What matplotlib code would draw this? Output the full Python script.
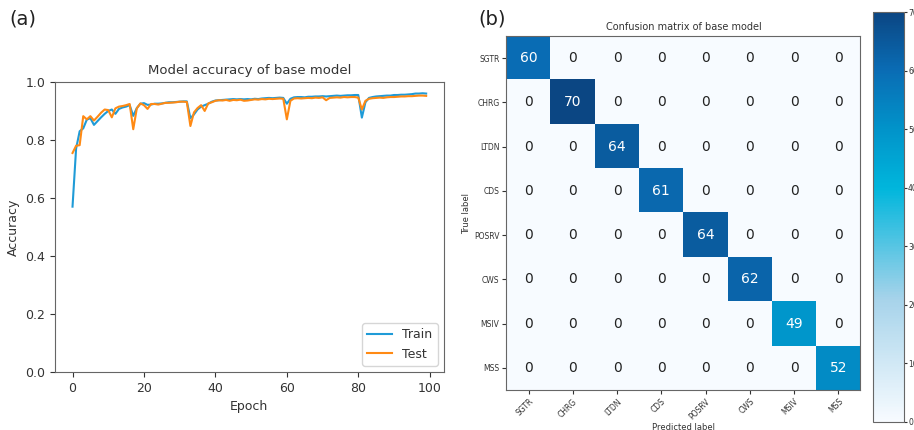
import numpy as np
import matplotlib
matplotlib.use("Agg")
import matplotlib.pyplot as plt
from matplotlib.colors import LinearSegmentedColormap

# accuracy curves
epochs = list(range(100))
train_acc = [
    0.57, 0.77, 0.83, 0.84, 0.87, 0.875, 0.852, 0.865, 0.878, 0.89,
    0.90, 0.905, 0.89, 0.907, 0.912, 0.915, 0.92, 0.883, 0.91, 0.925,
    0.927, 0.921, 0.922, 0.925, 0.925, 0.926, 0.928, 0.93, 0.93, 0.931,
    0.932, 0.933, 0.933, 0.875, 0.888, 0.905, 0.915, 0.92, 0.925, 0.932,
    0.936, 0.937, 0.938, 0.939, 0.94, 0.941, 0.94, 0.941, 0.94, 0.941,
    0.94, 0.942, 0.941, 0.943, 0.944, 0.945, 0.944, 0.945, 0.946, 0.945,
    0.925, 0.942, 0.947, 0.948, 0.948, 0.947, 0.949, 0.949, 0.95, 0.95,
    0.951, 0.95, 0.951, 0.952, 0.953, 0.952, 0.953, 0.954, 0.954, 0.955,
    0.955, 0.877, 0.93, 0.945, 0.948, 0.95, 0.951, 0.952, 0.953, 0.953,
    0.955, 0.955, 0.956, 0.956, 0.957, 0.958, 0.96, 0.96, 0.961, 0.96,
]
test_acc = [
    0.755, 0.78, 0.782, 0.882, 0.871, 0.882, 0.867, 0.88, 0.894, 0.905,
    0.903, 0.878, 0.909, 0.915, 0.917, 0.92, 0.924, 0.837, 0.909, 0.926,
    0.92, 0.907, 0.924, 0.924, 0.922, 0.925, 0.928, 0.928, 0.929, 0.93,
    0.932, 0.932, 0.931, 0.848, 0.895, 0.91, 0.92, 0.90, 0.926, 0.93,
    0.935, 0.937, 0.936, 0.938, 0.935, 0.938, 0.937, 0.939, 0.935, 0.936,
    0.938, 0.94, 0.939, 0.941, 0.94, 0.942, 0.941, 0.942, 0.943, 0.942,
    0.871, 0.935, 0.943, 0.944, 0.943, 0.944, 0.945, 0.944, 0.946, 0.945,
    0.947, 0.937, 0.945, 0.946, 0.947, 0.946, 0.948, 0.947, 0.948, 0.948,
    0.946, 0.905, 0.935, 0.942, 0.944, 0.945, 0.946, 0.945, 0.947, 0.948,
    0.948, 0.949, 0.95, 0.95, 0.951, 0.951, 0.952, 0.953, 0.953, 0.952,
]

# confusion matrix
classes = ["SGTR", "CHRG", "LTDN", "CDS", "POSRV", "CWS", "MSIV", "MSS"]
diag_counts = [60, 70, 64, 61, 64, 62, 49, 52]

cm = np.diag(diag_counts)

cmap = LinearSegmentedColormap.from_list(
    "cm_blues",
    [(0.0, "#f7fbff"), (0.3, "#a6d3ea"), (0.57, "#00b6dc"),
     (0.72, "#0192c9"), (0.86, "#0a6cb4"), (1.0, "#0b4683")])

text_col = "#333333"
spine_col = "#666666"
plt.rcParams["text.color"] = text_col
plt.rcParams["axes.labelcolor"] = text_col
plt.rcParams["xtick.color"] = text_col
plt.rcParams["ytick.color"] = text_col
plt.rcParams["axes.edgecolor"] = spine_col

fig = plt.figure(figsize=(9.14, 4.30), dpi=100)

# ---- (a) accuracy curves
ax1 = fig.add_axes([0.060, 0.135, 0.4256, 0.6744])
ax1.plot(epochs, train_acc, color="#1f9bd7", linewidth=1.5, label="Train")
ax1.plot(epochs, test_acc, color="#ff8a14", linewidth=1.5, label="Test")
ax1.set_ylim(0, 1.0)
ax1.set_yticks([0.0, 0.2, 0.4, 0.6, 0.8, 1.0])
ax1.set_xticks([0, 20, 40, 60, 80, 100])
ax1.tick_params(labelsize=9)
ax1.set_title("Model accuracy of base model", fontsize=9.5)
ax1.set_xlabel("Epoch", fontsize=9)
ax1.set_ylabel("Accuracy", fontsize=9)
ax1.legend(loc="lower right", fontsize=9)
fig.text(0.010, 0.955, "(a)", fontsize=14, va="center", color="#222222")

# ---- (b) confusion matrix
ax2 = fig.add_axes([0.5536, 0.093, 0.3884, 0.8233])
im = ax2.imshow(cm, cmap=cmap, vmin=0, vmax=70, interpolation="nearest")
ax2.set_xticks(range(len(classes)))
ax2.set_yticks(range(len(classes)))
ax2.set_xticklabels(classes, rotation=45, ha="right", rotation_mode="anchor")
ax2.set_yticklabels(classes)
ax2.tick_params(labelsize=5.5, length=3, pad=2)
ax2.set_title("Confusion matrix of base model", fontsize=7, pad=4)
ax2.set_xlabel("Predicted label", fontsize=6, labelpad=1)
ax2.set_ylabel("True label", fontsize=6, labelpad=2)
thresh = cm.max() / 2.0
for i in range(cm.shape[0]):
    for j in range(cm.shape[1]):
        ax2.text(j, i, str(cm[i, j]), ha="center", va="center", fontsize=10,
                 color="white" if cm[i, j] > thresh else "#222222")
fig.text(0.523, 0.955, "(b)", fontsize=14, va="center", color="#222222")

cax = fig.add_axes([0.955, 0.019, 0.034, 0.953])
cb = fig.colorbar(im, cax=cax)
cb.set_ticks([0, 10, 20, 30, 40, 50, 60, 70])
cb.ax.tick_params(labelsize=5.5, length=2, pad=1)
cb.outline.set_edgecolor(spine_col)

fig.savefig("out.png", dpi=100)
